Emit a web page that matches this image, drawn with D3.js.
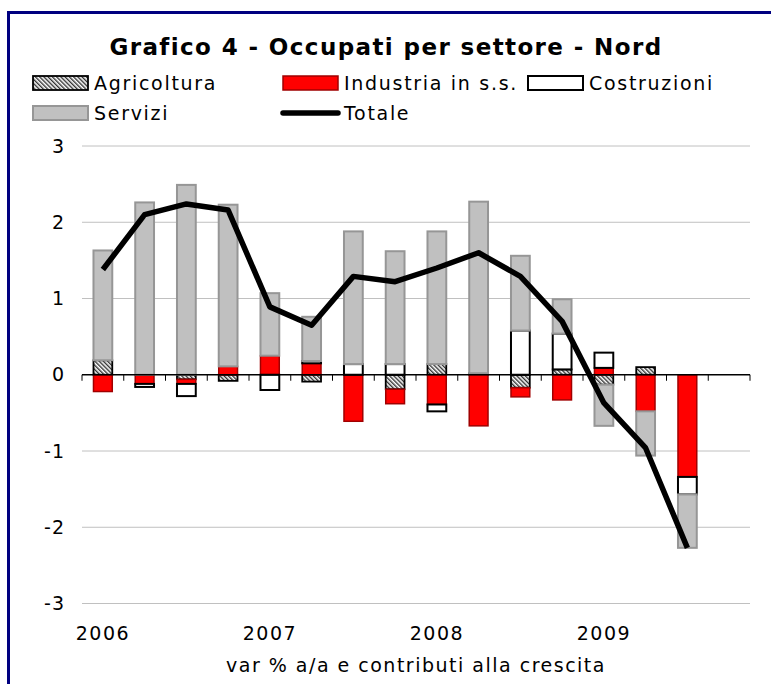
<!DOCTYPE html>
<html>
<head>
<meta charset="utf-8">
<script src="https://cdn.jsdelivr.net/npm/d3@7/dist/d3.min.js"></script>
<style>
  body { margin: 0; background: #fff; }
  svg text { font-family: "DejaVu Sans", Verdana, sans-serif; fill: #000; }
</style>
</head>
<body>
<svg id="chart" width="771" height="684"></svg>
<script>
// trimestri 2006-2009 (l'ultimo resta vuoto)
let trimestri = ["2006T1","2006T2","2006T3","2006T4","2007T1","2007T2","2007T3","2007T4",
                 "2008T1","2008T2","2008T3","2008T4","2009T1","2009T2","2009T3","2009T4"];
let etichette_anni = {"2006T1":"2006","2007T1":"2007","2008T1":"2008","2009T1":"2009"};

let agricoltura = [0.19, 0.00, -0.06, -0.08, 0.00, -0.09, 0.00, -0.19, 0.14, 0.02, -0.17, 0.07, -0.13, 0.10, 0.00];
let industria   = [-0.22, -0.12, -0.06, 0.11, 0.25, 0.15, -0.61, -0.19, -0.39, -0.67, -0.12, -0.33, 0.09, -0.48, -1.34];
let costruzioni = [0.00, -0.04, -0.16, 0.00, -0.20, 0.03, 0.14, 0.14, -0.09, 0.00, 0.58, 0.47, 0.20, 0.00, -0.23];
let servizi     = [1.44, 2.26, 2.49, 2.12, 0.82, 0.58, 1.74, 1.48, 1.74, 2.25, 0.98, 0.45, -0.54, -0.58, -0.70];
let totale      = [1.38, 2.10, 2.24, 2.16, 0.89, 0.65, 1.29, 1.22, 1.40, 1.60, 1.29, 0.70, -0.37, -0.96, -2.27];

let y_ticks = [-3, -2, -1, 0, 1, 2, 3];

let serie = ["Agricoltura", "Industria in s.s.", "Costruzioni", "Servizi"];

let svg = d3.select("#chart");

// pattern tratteggiato per agricoltura
let defs = svg.append("defs");
let pat = defs.append("pattern")
    .attr("id", "hatch")
    .attr("patternUnits", "userSpaceOnUse")
    .attr("width", 3).attr("height", 3)
    .attr("patternTransform", "rotate(-45)");
pat.append("rect").attr("width", 3).attr("height", 3).attr("fill", "#fff");
pat.append("rect").attr("width", 1.4).attr("height", 3).attr("fill", "#333");

let stili = {
    "Agricoltura":       {fill: "url(#hatch)", stroke: "#000", sw: 1.8},
    "Industria in s.s.": {fill: "#FF0000", stroke: "#A00000", sw: 1.5},
    "Costruzioni":       {fill: "#FFFFFF", stroke: "#000", sw: 2},
    "Servizi":           {fill: "#C0C0C0", stroke: "#969696", sw: 2}
};

// cornice blu
svg.append("rect")
    .attr("x", 8.5).attr("y", 12.5)
    .attr("width", 800).attr("height", 720)
    .attr("fill", "none")
    .attr("stroke", "#000080")
    .attr("stroke-width", 3);

let x = d3.scaleBand()
    .domain(trimestri)
    .range([82, 750])
    .paddingInner(0.55)
    .paddingOuter(0.275);

let y = d3.scaleLinear()
    .domain([-3, 3])
    .range([603.5, 146]);

// griglia
svg.append("g").selectAll("line")
    .data(y_ticks.filter(d => d !== 0))
    .enter().append("line")
    .attr("x1", 82).attr("x2", 750)
    .attr("y1", d => y(d)).attr("y2", d => y(d))
    .attr("stroke", "#C0C0C0")
    .attr("stroke-width", 1);

// asse y (trattino normale come nell'originale)
let yAxis = svg.append("g")
    .attr("transform", "translate(82,0)")
    .call(d3.axisLeft(y).tickValues(y_ticks).tickSize(0).tickPadding(17).tickFormat(d => String(d)));
yAxis.select(".domain").remove();
yAxis.selectAll("text")
    .style("font-size", "19px")
    .style("font-family", "DejaVu Sans, Verdana, sans-serif")
    .attr("letter-spacing", 1);

// dati impilati
let righe = trimestri.slice(0, totale.length).map((t, i) => ({
    trimestre: t,
    "Agricoltura": agricoltura[i],
    "Industria in s.s.": industria[i],
    "Costruzioni": costruzioni[i],
    "Servizi": servizi[i]
}));

let stack = d3.stack()
    .keys(serie)
    .offset(d3.stackOffsetDiverging);

let strati = stack(righe);

let gruppi = svg.append("g").selectAll("g")
    .data(strati)
    .enter().append("g")
    .attr("fill", d => stili[d.key].fill)
    .attr("stroke", d => stili[d.key].stroke)
    .attr("stroke-width", d => stili[d.key].sw);

gruppi.selectAll("rect")
    .data(d => d.filter(v => Math.abs(v[1] - v[0]) > 0.001))
    .enter().append("rect")
    .attr("x", d => x(d.data.trimestre))
    .attr("width", x.bandwidth())
    .attr("y", d => y(Math.max(d[0], d[1])))
    .attr("height", d => Math.abs(y(d[0]) - y(d[1])));

// asse dello zero con tacche ai confini dei trimestri
svg.append("line")
    .attr("x1", 82).attr("x2", 750)
    .attr("y1", y(0)).attr("y2", y(0))
    .attr("stroke", "#000").attr("stroke-width", 1.3);

let confini = trimestri.map(t => x(t) - x.step() * x.paddingInner() / 2);
confini.push(750);
svg.append("g").selectAll("line")
    .data(confini)
    .enter().append("line")
    .attr("x1", d => d).attr("x2", d => d)
    .attr("y1", y(0)).attr("y2", y(0) + 6)
    .attr("stroke", "#000").attr("stroke-width", 1);

// linea del totale
let linea = d3.line()
    .x((d, i) => x(trimestri[i]) + x.bandwidth() / 2)
    .y(d => y(d));

svg.append("path")
    .datum(totale)
    .attr("d", linea)
    .attr("fill", "none")
    .attr("stroke", "#000")
    .attr("stroke-width", 5.5)
    .attr("stroke-linejoin", "round");

// etichette anni
let xAxis = svg.append("g")
    .attr("transform", "translate(0,626)")
    .call(d3.axisBottom(x).tickSize(0).tickPadding(0).tickFormat(d => etichette_anni[d] || ""));
xAxis.select(".domain").remove();
xAxis.selectAll("text")
    .style("font-size", "19px")
    .style("font-family", "DejaVu Sans, Verdana, sans-serif")
    .attr("letter-spacing", 1.5);

svg.append("text")
    .attr("x", 416).attr("y", 665).attr("dy", "0.35em")
    .attr("text-anchor", "middle")
    .style("font-size", "19px")
    .attr("letter-spacing", 1.5)
    .text("var % a/a e contributi alla crescita");

// titolo
svg.append("text")
    .attr("x", 386).attr("y", 47).attr("dy", "0.35em")
    .attr("text-anchor", "middle")
    .style("font-size", "23px")
    .style("font-weight", "bold")
    .attr("letter-spacing", 1.4)
    .text("Grafico 4 - Occupati per settore - Nord");

// legenda
let legenda = [
    {nome: "Agricoltura", x: 33, y: 83},
    {nome: "Industria in s.s.", x: 283, y: 83},
    {nome: "Costruzioni", x: 528, y: 83},
    {nome: "Servizi", x: 33, y: 113}
];

let leg = svg.append("g").selectAll("g")
    .data(legenda)
    .enter().append("g");

leg.append("rect")
    .attr("x", d => d.x).attr("y", d => d.y - 7)
    .attr("width", 55).attr("height", 14)
    .attr("fill", d => stili[d.nome].fill)
    .attr("stroke", d => stili[d.nome].stroke)
    .attr("stroke-width", d => stili[d.nome].sw);

leg.append("text")
    .attr("x", d => d.x + 61).attr("y", d => d.y).attr("dy", "0.35em")
    .style("font-size", "19px")
    .attr("letter-spacing", 1.7)
    .text(d => d.nome);

svg.append("line")
    .attr("x1", 283).attr("x2", 338)
    .attr("y1", 113).attr("y2", 113)
    .attr("stroke", "#000").attr("stroke-width", 5.5)
    .attr("stroke-linecap", "round");
svg.append("text")
    .attr("x", 344).attr("y", 113).attr("dy", "0.35em")
    .style("font-size", "19px")
    .attr("letter-spacing", 1.7)
    .text("Totale");
</script>
</body>
</html>
